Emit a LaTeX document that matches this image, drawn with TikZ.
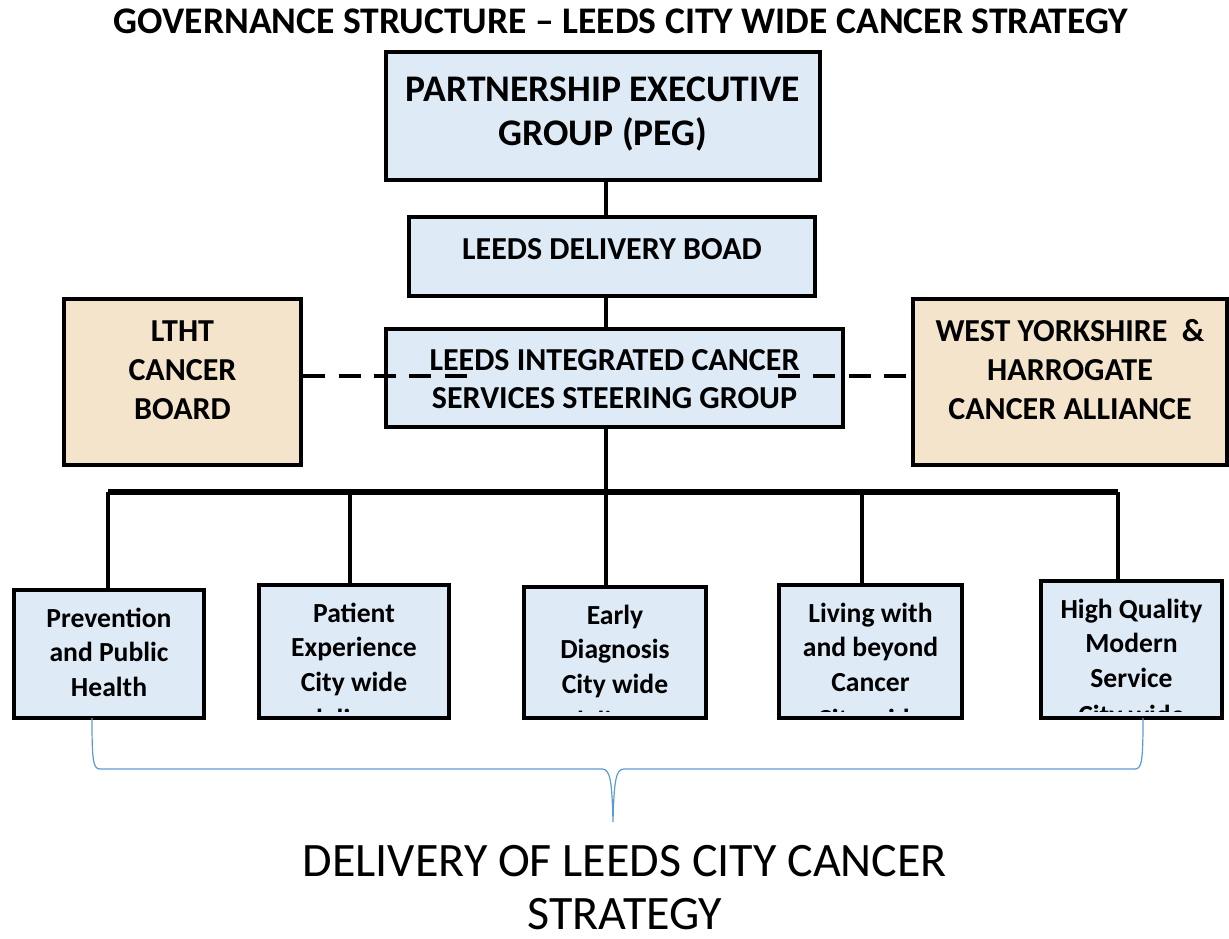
\documentclass[tikz,border=0pt]{standalone}
\usepackage{fontspec}
\setmainfont{Carlito}
\usetikzlibrary{calc}
\definecolor{paleblue}{HTML}{DEEAF6}
\definecolor{paletan}{HTML}{F3E4CB}
\definecolor{bracecol}{HTML}{5B9BD5}
\tikzset{
  unitbox/.style={draw=black, line width=3.7pt, fill=paleblue, inner sep=0pt},
  sidebox/.style={unitbox, fill=paletan},
  link/.style={line width=3.2pt, black},
  buslink/.style={line width=3.8pt, black},
  dashlink/.style={line width=3.4pt, black, dash pattern=on 16.5pt off 10pt},
  bracepath/.style={draw=bracecol, line width=0.9pt},
  ttl/.style={anchor=base, inner sep=0pt, font=\bfseries\fontsize{28.2}{34}\selectfont},
  big/.style={anchor=base, inner sep=0pt, font=\bfseries\fontsize{24}{29}\selectfont},
  small/.style={anchor=base, inner sep=0pt, font=\bfseries\fontsize{20.7}{26}\selectfont},
  foot/.style={anchor=base, inner sep=0pt, font=\fontsize{36}{42}\selectfont},
}
\begin{document}
\begin{tikzpicture}[x=0.75pt, y=-0.75pt]
\useasboundingbox (0,0) rectangle (1229,939);

% heading
\node[ttl] (title) at (621,33) {GOVERNANCE STRUCTURE – LEEDS CITY WIDE CANCER STRATEGY};

% upper chain of boards
\node[unitbox, minimum width=434*0.75pt, minimum height=128*0.75pt] (peg) at (603,116) {};
\node[ttl] (pegA) at (603,101) {PARTNERSHIP EXECUTIVE};
\node[ttl] (pegB) at (603,145) {GROUP (PEG)};

\node[unitbox, minimum width=406*0.75pt, minimum height=79*0.75pt] (dlv) at (612,256.5) {};
\node[big] (dlvA) at (612,259) {LEEDS DELIVERY BOAD};

% side partners
\node[sidebox, minimum width=237*0.75pt, minimum height=166*0.75pt] (ltht) at (182.5,382) {};
\node[big] (lthtA) at (182.5,341) {LTHT};
\node[big] (lthtB) at (182.5,380) {CANCER};
\node[big] (lthtC) at (182.5,419) {BOARD};

\node[sidebox, minimum width=314*0.75pt, minimum height=166*0.75pt] (wy) at (1070,382) {};
\node[big] (wyA) at (1070,341) {WEST YORKSHIRE\ \ \&};
\node[big] (wyB) at (1070,380) {HARROGATE};
\node[big] (wyC) at (1070,419) {CANCER ALLIANCE};

% dashed relationships reach a little way into the steering group box
\coordinate (dashL) at (472,376);
\coordinate (dashR) at (778,376);

\node[unitbox, minimum width=457*0.75pt, minimum height=98*0.75pt] (steer) at (614.5,378) {};
\node[big] (steerA) at (614.5,370) {LEEDS INTEGRATED CANCER};
\node[big] (steerB) at (614.5,408) {SERVICES STEERING GROUP};

\draw[dashlink] (ltht.east |- dashL) -- (dashL);
\draw[dashlink] (dashR) -- (wy.west |- dashR);

% vertical spine
\coordinate (spine) at (606,0);
\draw[link] (spine |- peg.south) -- (spine |- dlv.north);
\draw[link] (spine |- dlv.south) -- (spine |- steer.north);

% work streams
\node[unitbox, minimum width=190*0.75pt, minimum height=128*0.75pt] (w1) at (109,654) {};
\node[unitbox, minimum width=190*0.75pt, minimum height=133*0.75pt] (w2) at (354,651.5) {};
\node[unitbox, minimum width=182*0.75pt, minimum height=131*0.75pt] (w3) at (615,652.5) {};
\node[unitbox, minimum width=183*0.75pt, minimum height=133*0.75pt] (w4) at (870.5,651.5) {};
\node[unitbox, minimum width=181*0.75pt, minimum height=137*0.75pt] (w5) at (1131.5,649.5) {};

% stream texts, cut off at the inner edge of each box
\foreach \b/\cx/\y/\lines in {
  w1/109/627/{Prevention,and Public,Health},
  w2/354/622/{Patient,Experience,City wide,delivery},
  w3/615/624/{Early,Diagnosis,City wide,delivery},
  w4/870.5/622/{Living with,and beyond,Cancer,City wide},
  w5/1131.5/618/{High Quality,Modern,Service,City wide}} {
  \begin{scope}
    \clip ([shift={(2.6,-8.5)}]\b.south west) rectangle ([shift={(-2.6,2.6)}]\b.north east);
    \foreach \t [count=\i] in \lines {
      \node[small] (\b t\i) at (\cx,{\y+(\i-1)*34.5+(\i==4)*3}) {\t};
    }
  \end{scope}
}

% distribution bus and its drops
\coordinate (busL) at (108,492);
\coordinate (bus2) at (350,492);
\coordinate (busM) at (606,492);
\coordinate (bus4) at (862,492);
\coordinate (busR) at (1118,492);
\draw[link] (spine |- steer.south) -- (busM);
\draw[buslink] (busL) -- (busR);
\draw[link] (busL) -- (busL |- w1.north);
\draw[link] (bus2) -- (bus2 |- w2.north);
\draw[link] (busM) -- (busM |- w3.north);
\draw[link] (bus4) -- (bus4 |- w4.north);
\draw[link] (busR) -- (busR |- w5.north);

% curly brace gathering the streams
\coordinate (brL) at (92,718);
\coordinate (brR) at (1143,718);
\coordinate (brTip) at (613,822);
\draw[bracepath] (brL) .. controls (92,760) and (93,769) .. (100,769)
  -- (602,769) .. controls (610,769) and (612,780) .. (brTip)
  .. controls (614,780) and (616,769) .. (624,769)
  -- (1135,769) .. controls (1142,769) and (1143,760) .. (brR);

% outcome
\node[foot] (outA) at (625,876) {DELIVERY OF LEEDS CITY CANCER};
\node[foot] (outB) at (625,929) {STRATEGY};
\end{tikzpicture}
\end{document}
